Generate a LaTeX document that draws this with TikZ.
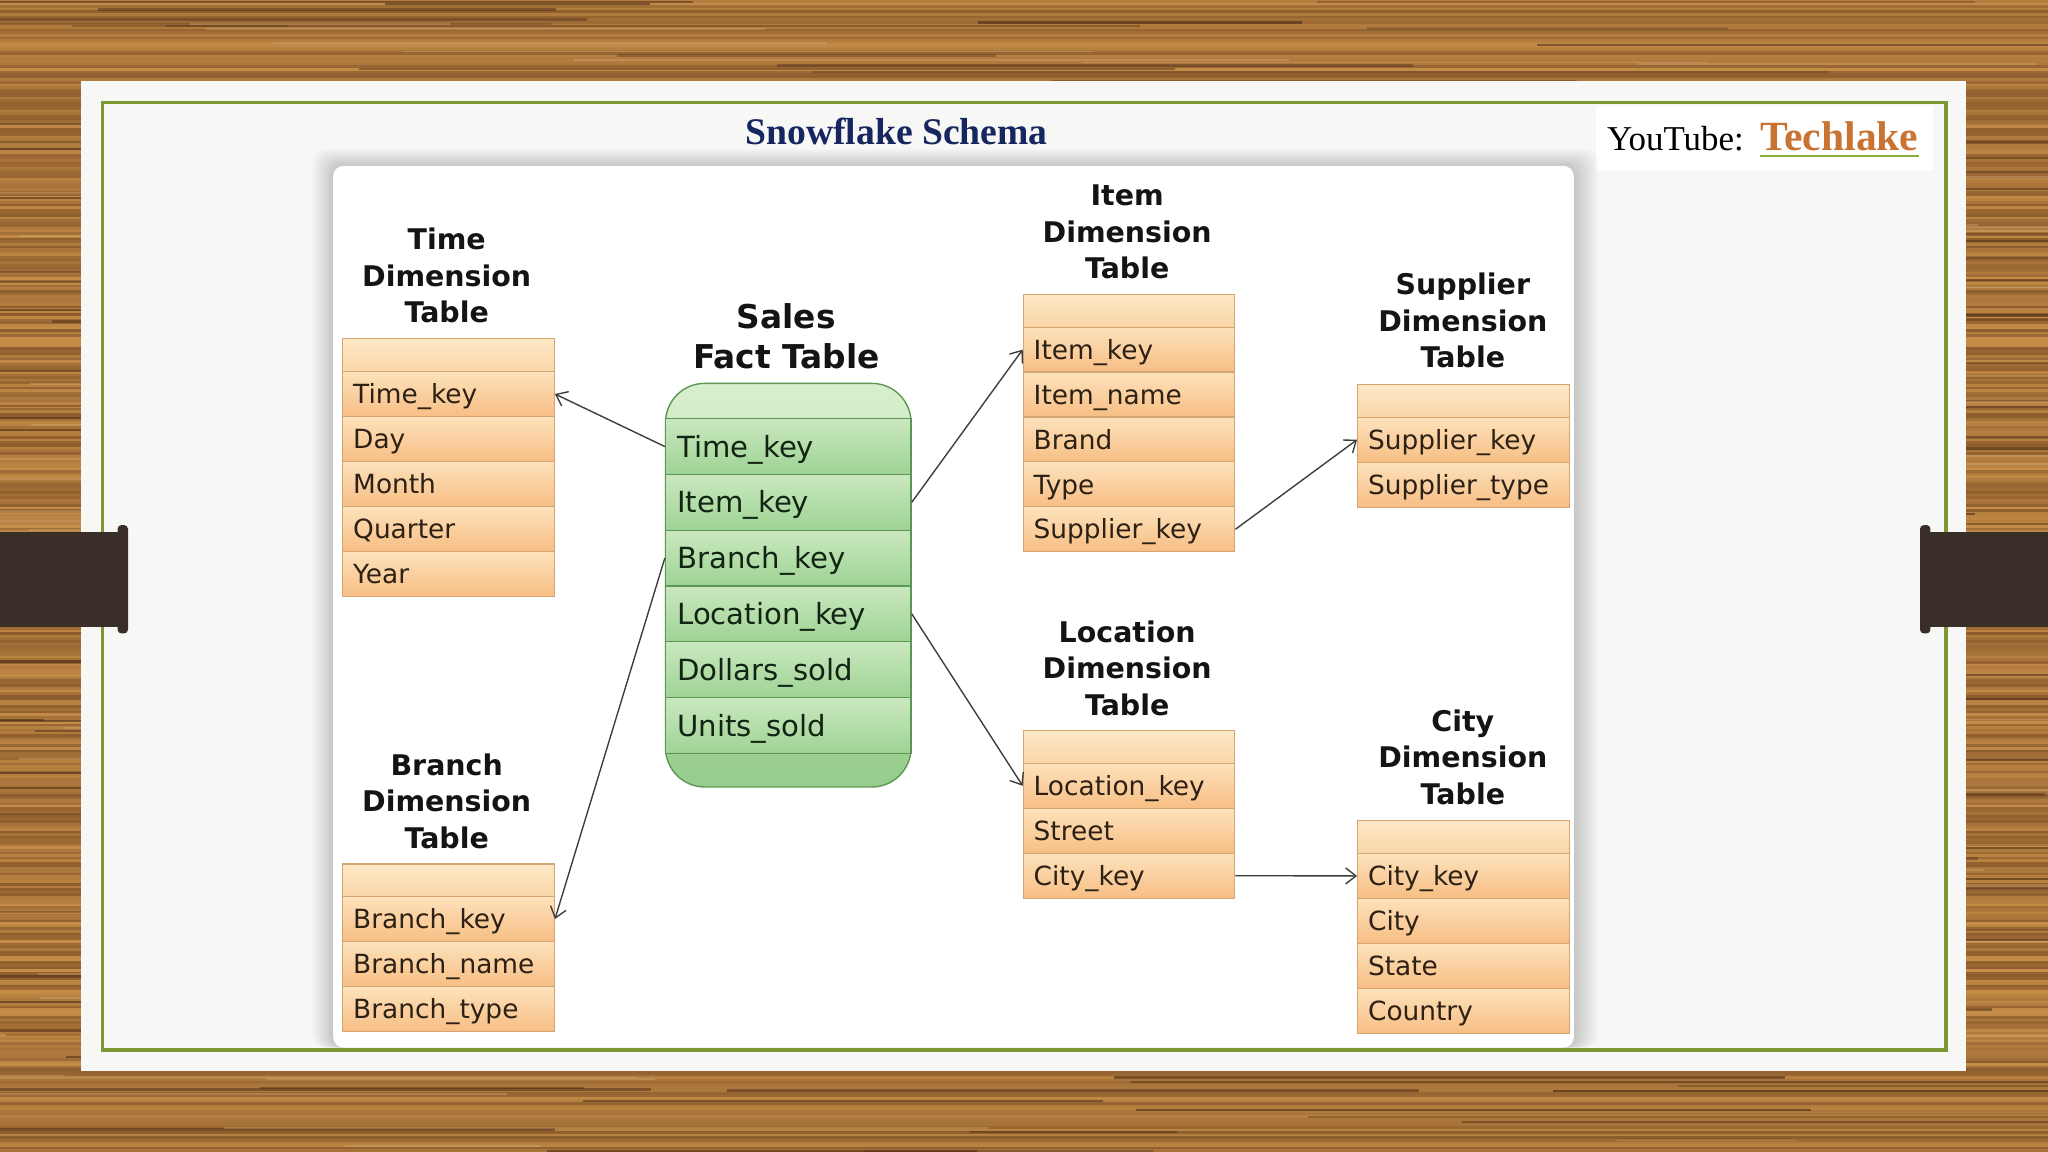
\documentclass[tikz,border=0pt]{standalone}
\usepackage{fontspec}
\setmainfont{Liberation Serif}
\newfontfamily\vfont{DejaVu Sans}
\usetikzlibrary{arrows.meta,calc}
\newlength\pu
\setlength\pu{0.02cm}
\definecolor{woodD}{RGB}{122,76,36}
\definecolor{woodL}{RGB}{198,142,72}
\definecolor{woodG}{RGB}{82,48,24}
\definecolor{sheet}{RGB}{247,247,246}
\definecolor{olive}{RGB}{125,152,50}
\definecolor{tabc}{RGB}{58,47,40}
\definecolor{navy}{RGB}{22,38,95}
\definecolor{orangeT}{RGB}{200,115,50}
\definecolor{ulgreen}{RGB}{140,172,62}
\definecolor{oHeadT}{RGB}{253,232,198}
\definecolor{oHeadB}{RGB}{250,214,168}
\definecolor{oRowT}{RGB}{253,226,188}
\definecolor{oRowB}{RGB}{247,190,132}
\definecolor{oLine}{RGB}{212,165,112}
\definecolor{oText}{RGB}{45,32,20}
\definecolor{gBoxT}{RGB}{216,239,206}
\definecolor{gBoxB}{RGB}{150,205,140}
\definecolor{gRowT}{RGB}{202,232,192}
\definecolor{gRowB}{RGB}{158,211,148}
\definecolor{gLine}{RGB}{92,150,82}
\definecolor{gText}{RGB}{18,36,18}
\definecolor{connc}{RGB}{60,60,60}

\newcommand\dimtbl[4]{%
  \node[dhead] (#1h) at (#2,#3-25) {};
  \foreach \r [count=\i] in {#4}{%
    \pgfmathsetmacro\yy{#3+34.4*(\i-1)}%
    \node[drow] (#1\i) at (#2,\yy) {\r};
  }%
}

\begin{document}
\begin{tikzpicture}[x=0.02cm,y=-0.02cm,
  dhead/.style={anchor=north west, draw=oLine, line width=0.5pt,
    top color=oHeadT, bottom color=oHeadB,
    minimum width=162\pu, minimum height=25\pu, inner sep=0pt},
  drow/.style={anchor=north west, draw=oLine, line width=0.5pt,
    top color=oRowT, bottom color=oRowB,
    minimum width=162\pu, minimum height=34.4\pu,
    text width=146\pu, inner xsep=8\pu, inner ysep=0pt, align=left,
    text height=8.4pt, text depth=0pt,
    text=oText, font=\vfont\fontsize{11.5}{13.5}\selectfont},
  frow/.style={anchor=north west, draw=gLine, line width=0.6pt,
    top color=gRowT, bottom color=gRowB,
    minimum width=188\pu, minimum height=42.7\pu,
    text width=170\pu, inner xsep=9\pu, inner ysep=0pt, align=left,
    text height=9.3pt, text depth=0pt,
    text=gText, font=\vfont\fontsize{12.7}{15}\selectfont},
  factbox/.style={anchor=north west, draw=gLine, line width=0.6pt,
    rounded corners=30\pu, top color=gBoxT, bottom color=gBoxB,
    minimum width=188\pu, minimum height=309\pu, inner sep=0pt},
  ttl/.style={align=center, text=black!92,
    font=\vfont\bfseries\fontsize{12.4}{15.9}\selectfont, inner sep=0pt},
  ftl/.style={align=center, text=black!92,
    font=\vfont\bfseries\fontsize{14.3}{17.6}\selectfont, inner sep=0pt},
  conn/.style={draw=connc, line width=0.6pt,
    -{Straight Barb[length=4.5pt,width=7pt]}}
]
\useasboundingbox (0,0) rectangle (1568,882);

% ---------- wood background ----------
\fill[woodL!55!woodD] (0,0) rectangle (1568,882);
\pgfmathsetseed{11}
\foreach \k in {0,...,440}{%
  \pgfmathsetmacro\m{int(25+rnd*75)}%
  \fill[woodL!\m!woodD] (0,\k*2) rectangle (1568,\k*2+2.3);
}
\foreach \k in {1,...,220}{%
  \pgfmathsetmacro\yy{rnd*882}%
  \pgfmathsetmacro\xa{rnd*1568-200}%
  \pgfmathsetmacro\ll{150+rnd*650}%
  \pgfmathsetmacro\op{0.3+rnd*0.4}%
  \draw[woodG, line width=1pt, opacity=\op] (\xa,\yy) -- ++(\ll,0);
}
\foreach \k in {1,...,120}{%
  \pgfmathsetmacro\yy{rnd*882}%
  \pgfmathsetmacro\xa{rnd*1568-200}%
  \pgfmathsetmacro\ll{100+rnd*500}%
  \draw[woodL!70!white, line width=0.8pt, opacity=0.35] (\xa,\yy) -- ++(\ll,0);
}

% ---------- sheet ----------
\fill[sheet] (62,62) rectangle (1505,820);
\draw[olive, line width=1.5pt] (78.5,78.5) rectangle (1490,804);

% ---------- side tabs ----------
\fill[tabc] (0,407) rectangle (93,480);
\fill[tabc, rounded corners=3\pu] (90,402) rectangle (98,485);
\fill[tabc] (1475,407) rectangle (1568,480);
\fill[tabc, rounded corners=3\pu] (1470,402) rectangle (1478,485);

% ---------- title ----------
\node[anchor=base, inner sep=0pt, text=navy,
  font=\bfseries\fontsize{16.4}{19}\selectfont] (title) at (686.5,110.5) {Snowflake Schema};

% ---------- YouTube label ----------
\fill[white] (1222,81) rectangle (1480,130);
\node[anchor=base west, inner sep=0pt, text=black,
  font=\fontsize{15.2}{18}\selectfont] (yt) at (1230,115.6) {YouTube:};
\node[anchor=base west, inner sep=0pt, text=orangeT,
  font=\bfseries\fontsize{18.1}{21}\selectfont] (tl) at (1347.6,115.6) {Techlake};
\draw[ulgreen, line width=1.1pt] ([yshift=-2.2pt]tl.base west) -- ([yshift=-2.2pt]tl.base east);

% ---------- diagram panel with shadow ----------
\foreach \k in {1,...,16}{%
  \fill[black, opacity=0.013, rounded corners=10\pu]
    (255-\k,127-0.8*\k) rectangle (1205+1.2*\k,802);
}
\fill[white, rounded corners=8\pu] (255,127) rectangle (1205,802);

% ---------- dimension tables ----------
\node[ttl] (tt) at (342,211) {Time\\Dimension\\Table};
\dimtbl{t}{262}{284}{Time\_key,Day,Month,Quarter,Year}

\node[ttl] (it) at (863,177.5) {Item\\Dimension\\Table};
\dimtbl{i}{783}{250}{Item\_key,Item\_name,Brand,Type,Supplier\_key}

\node[ttl] (st) at (1120,245.5) {Supplier\\Dimension\\Table};
\dimtbl{s}{1039}{319}{Supplier\_key,Supplier\_type}

\node[ttl] (lt) at (863,511.5) {Location\\Dimension\\Table};
\dimtbl{l}{783}{584}{Location\_key,Street,City\_key}

\node[ttl] (ct) at (1120,579.5) {City\\Dimension\\Table};
\dimtbl{c}{1039}{653}{City\_key,City,State,Country}

\node[ttl] (bt) at (342,613.5) {Branch\\Dimension\\Table};
\dimtbl{b}{262}{686}{Branch\_key,Branch\_name,Branch\_type}

% ---------- fact table ----------
\node[ftl] (ft) at (602,257.5) {Sales\\Fact Table};
\node[factbox] (fbox) at (509,293) {};
\foreach \r [count=\i] in {Time\_key,Item\_key,Branch\_key,Location\_key,Dollars\_sold,Units\_sold}{%
  \pgfmathsetmacro\yy{320+42.7*(\i-1)}%
  \node[frow] (f\i) at (509,\yy) {\r};
}

% ---------- connectors ----------
\draw[conn] (f1.west) -- (t1.east);
\draw[conn] (f2.east) -- (i1.west);
\draw[conn] (i5.east) -- (s1.west);
\draw[conn] (f3.west) -- (b1.east);
\draw[conn] (f4.east) -- (l1.west);
\draw[conn] (l3.east) -- (c1.west);
\end{tikzpicture}
\end{document}
